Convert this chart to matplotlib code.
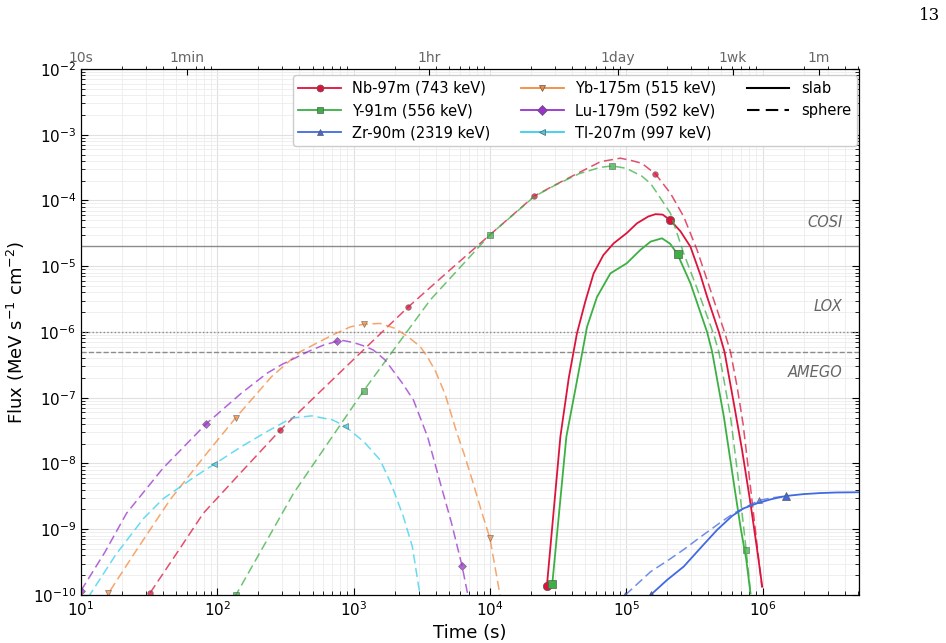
import numpy as np
import matplotlib
matplotlib.use("Agg")
import matplotlib.pyplot as plt
from matplotlib.lines import Line2D

# ---------------------------------------------------------------------------
# data (time in s, flux in MeV s^-1 cm^-2)
# ---------------------------------------------------------------------------
names = ["Nb-97m (743 keV)", "Y-91m (556 keV)", "Zr-90m (2319 keV)",
         "Yb-175m (515 keV)", "Lu-179m (592 keV)", "Tl-207m (997 keV)"]
colors = ["#dc143c", "#3cb043", "#4169e1", "#f4893b", "#9932cc", "#35d0ee"]
markers = ["o", "s", "^", "v", "D", "<"]

# sphere (dashed)
nb_t_sph = [25, 32, 50, 79, 150, 289, 600, 1200, 2506, 5000, 1.0e4, 2.12e4,
            3.0e4, 4.5e4, 6.5e4, 9.06e4, 1.1e5, 1.3e5, 1.64e5, 2.11e5, 2.64e5,
            3.31e5, 4.15e5, 5.26e5, 5.82e5, 6.5e5, 7.2e5, 8.2e5, 9.9e5]
nb_f_sph = [4.8e-11, 1.06e-10, 4.2e-10, 1.75e-9, 7.4e-9, 3.2e-8, 1.38e-7,
            5.5e-7, 2.38e-6, 8.5e-6, 3.0e-5, 1.17e-4, 1.72e-4, 2.65e-4,
            3.9e-4, 4.4e-4, 4.04e-4, 3.68e-4, 2.53e-4, 1.29e-4, 5.7e-5, 1.77e-5,
            4.35e-6, 1.0e-6, 5.0e-7, 1.5e-7, 4.0e-8, 4.0e-9, 1.3e-10]
nb_mk_sph = [32, 289, 2506, 2.12e4, 1.64e5]

y_t_sph = [120, 137, 362, 1183, 3650, 1.0e4, 2.12e4, 3.0e4, 4.5e4, 6.5e4,
           7.92e4, 1.0e5, 1.3e5, 1.51e5, 1.7e5, 2.11e5, 2.64e5, 3.31e5, 4.4e5,
           4.78e5, 5.82e5, 6.7e5, 7.59e5, 8.2e5]
y_f_sph = [6.0e-11, 1.0e-10, 3.5e-9, 1.27e-7, 3.07e-6, 3.0e-5, 1.15e-4,
           1.7e-4, 2.55e-4, 3.2e-4, 3.35e-4, 3.09e-4, 2.35e-4, 1.81e-4,
           1.26e-4, 6.4e-5, 1.57e-5, 4.6e-6, 9.0e-7, 5.0e-7, 5.2e-8, 5.0e-9,
           4.8e-10, 1.0e-10]
y_mk_sph = [137, 1183, 1.0e4, 7.92e4, 7.59e5]

zr_t_sph = [9.86e4, 1.51e5, 2.0e5, 2.64e5, 3.53e5, 5.0e5, 6.16e5, 9.4e5,
            1.15e6, 1.48e6]
zr_f_sph = [1.0e-10, 2.26e-10, 3.3e-10, 4.9e-10, 7.7e-10, 1.3e-9, 1.75e-9,
            2.74e-9, 2.98e-9, 3.2e-9]
zr_mk_sph = [9.86e4, 9.4e5]

yb_t_sph = [13, 15.9, 25, 45, 80, 137, 250, 405, 700, 950, 1183, 1567, 2000,
            2500, 3080, 3500, 4000, 4700, 5730, 6500, 7500, 8700, 1.0e4,
            1.18e4, 1.3e4]
yb_f_sph = [5.0e-11, 1.06e-10, 4.5e-10, 2.8e-9, 1.27e-8, 5.0e-8, 2.09e-7,
            5.0e-7, 9.0e-7, 1.2e-6, 1.31e-6, 1.35e-6, 1.14e-6, 8.5e-7, 6.0e-7,
            4.1e-7, 2.5e-7, 1.12e-7, 2.9e-8, 1.35e-8, 5.2e-9, 1.84e-9,
            7.3e-10, 1.06e-10, 3e-11]
yb_mk_sph = [15.9, 137, 1183, 1.0e4]

lu_t_sph = [10, 15, 21.6, 40, 82.8, 150, 231, 300, 480, 600, 753, 843, 1000,
            1200, 1400, 1700, 2000, 2300, 2750, 3500, 4330, 5200, 6240, 6850,
            7300]
lu_f_sph = [1.16e-10, 4.5e-10, 1.75e-9, 8.5e-9, 4.0e-8, 1.17e-7, 2.35e-7,
            3.23e-7, 5.2e-7, 6.3e-7, 7.2e-7, 7.4e-7, 6.9e-7, 6.1e-7, 5.3e-7,
            3.76e-7, 2.4e-7, 1.62e-7, 9.2e-8, 2.5e-8, 5.0e-9, 1.3e-9, 2.8e-10,
            1.06e-10, 5e-11]
lu_mk_sph = [10, 82.8, 753, 6240]

tl_t_sph = [10, 11.6, 18, 28.7, 40, 50, 70, 95.3, 150, 231, 350, 494, 700,
            867, 1200, 1567, 1900, 2320, 2700, 3000, 3200]
tl_f_sph = [6e-11, 1.0e-10, 4.1e-10, 1.45e-9, 2.9e-9, 4.0e-9, 6.5e-9, 9.8e-9,
            1.8e-8, 3.05e-8, 4.9e-8, 5.3e-8, 4.6e-8, 3.7e-8, 2.1e-8, 1.13e-8,
            4.7e-9, 1.55e-9, 5.4e-10, 1.35e-10, 6e-11]
tl_mk_sph = [95.3, 867]

# slab (solid)
nb_t_slab = [2.62e4, 3.29e4, 3.79e4, 4.35e4, 5.0e4, 5.77e4, 6.8e4, 8.09e4,
             1.01e5, 1.2e5, 1.45e5, 1.64e5, 1.85e5, 2.11e5, 2.5e5, 2.96e5,
             3.5e5, 3.92e5, 4.78e5, 5.26e5, 6.16e5, 7.08e5, 8.16e5, 9.14e5,
             9.95e5]
nb_f_slab = [1.39e-10, 2.57e-8, 2.0e-7, 9.5e-7, 2.86e-6, 7.8e-6, 1.48e-5,
             2.23e-5, 3.2e-5, 4.5e-5, 5.7e-5, 6.2e-5, 6.1e-5, 5.0e-5, 3.4e-5,
             1.98e-5, 7.4e-6, 3.44e-6, 1.0e-6, 5.0e-7, 8.2e-8, 1.6e-8, 2.48e-9,
             4.8e-10, 1.34e-10]
nb_mk_slab = [2.62e4, 2.11e5]

y_t_slab = [2.87e4, 3.64e4, 4.34e4, 5.16e4, 6.1e4, 7.66e4, 1.01e5, 1.27e5,
            1.51e5, 1.83e5, 2.1e5, 2.38e5, 2.96e5, 3.92e5, 4.27e5, 5.2e5,
            6.16e5, 6.9e5, 7.59e5, 8.16e5]
y_f_slab = [1.49e-10, 2.57e-8, 1.75e-7, 1.2e-6, 3.4e-6, 7.8e-6, 1.11e-5,
            1.77e-5, 2.37e-5, 2.66e-5, 2.2e-5, 1.52e-5, 5.5e-6, 1.0e-6, 5.0e-7,
            5.2e-8, 5.0e-9, 1.07e-9, 3.5e-10, 1.06e-10]
y_mk_slab = [2.87e4, 2.38e5]

zr_t_slab = [1.51e5, 2.0e5, 2.64e5, 3.6e5, 4.65e5, 6.0e5, 7.28e5, 9.14e5,
             1.15e6, 1.48e6, 2.0e6, 2.67e6, 3.5e6, 5.1e6]
zr_f_slab = [1.0e-10, 1.7e-10, 2.7e-10, 5.5e-10, 9.8e-10, 1.6e-9, 2.08e-9,
             2.48e-9, 2.85e-9, 3.2e-9, 3.42e-9, 3.55e-9, 3.62e-9, 3.65e-9]
zr_mk_slab = [1.51e5, 1.48e6]

sphere = [(nb_t_sph, nb_f_sph, nb_mk_sph), (y_t_sph, y_f_sph, y_mk_sph),
          (zr_t_sph, zr_f_sph, zr_mk_sph), (yb_t_sph, yb_f_sph, yb_mk_sph),
          (lu_t_sph, lu_f_sph, lu_mk_sph), (tl_t_sph, tl_f_sph, tl_mk_sph)]
slab = [(nb_t_slab, nb_f_slab, nb_mk_slab), (y_t_slab, y_f_slab, y_mk_slab),
        (zr_t_slab, zr_f_slab, zr_mk_slab), None, None, None]

# instrument sensitivities
inst_names = ["COSI", "LOX", "AMEGO"]
inst_flux = [2e-5, 1e-6, 5e-7]
inst_styles = ["-", ":", "--"]
inst_label_y = [4.7e-5, 2.4e-6, 2.4e-7]

# secondary time axis
top_ticks = [10, 60, 3600, 86400, 604800, 2.592e6]
top_labels = ["10s", "1min", "1hr", "1day", "1wk", "1m"]

# ---------------------------------------------------------------------------
fig = plt.figure(figsize=(9.46, 6.43), dpi=100)
ax = fig.add_axes([0.0856, 0.0747, 0.8224, 0.818])

for i in range(len(names)):
    t, f, mk = sphere[i]
    ax.plot(t, f, "--", color=colors[i], lw=1.1, alpha=0.75,
            marker=markers[i], markevery=[t.index(m) for m in mk],
            markersize=4, markeredgecolor="0.35", markeredgewidth=0.5,
            dashes=(6, 3))
    if slab[i] is not None:
        t, f, mk = slab[i]
        ax.plot(t, f, "-", color=colors[i], lw=1.3,
                marker=markers[i], markevery=[t.index(m) for m in mk],
                markersize=6, markeredgecolor="0.35", markeredgewidth=0.5)

for name, fl, ls, ly in zip(inst_names, inst_flux, inst_styles, inst_label_y):
    ax.axhline(fl, color="0.55", ls=ls, lw=1.0, zorder=1)
    ax.text(0.979, ly, name, transform=ax.get_yaxis_transform(), ha="right",
            va="center", style="italic", color="0.4", fontsize=10.5)

ax.set_xscale("log")
ax.set_yscale("log")
ax.set_xlim(10, 5.1e6)
ax.set_ylim(1e-10, 1e-2)
ax.grid(True, which="major", color="0.88", lw=0.8)
ax.grid(True, which="minor", color="0.93", lw=0.6)
ax.set_axisbelow(True)
ax.tick_params(which="both", direction="in", right=True, top=False)
ax.tick_params(which="major", length=5, labelsize=11)
ax.tick_params(which="minor", length=3)
ax.set_xlabel("Time (s)", fontsize=13)
ax.set_ylabel(r"Flux (MeV s$^{-1}$ cm$^{-2}$)", fontsize=13)

ax2 = ax.twiny()
ax2.set_xscale("log")
ax2.set_xlim(ax.get_xlim())
ax2.set_xticks(top_ticks)
ax2.set_xticklabels(top_labels)
ax2.tick_params(which="major", direction="in", length=4, labelsize=10,
                labelcolor="0.4", pad=3)
ax2.tick_params(which="minor", direction="out", length=2.5)

handles = [Line2D([], [], color=c, marker=m, markersize=5,
                  markeredgecolor="0.35", markeredgewidth=0.5, lw=1.3)
           for c, m in zip(colors, markers)]
handles += [Line2D([], [], color="black", ls="-", lw=1.5),
            Line2D([], [], color="black", ls="--", lw=1.5, dashes=(6, 3))]
labels = names + ["slab", "sphere"]
ax.legend(handles, labels, loc="upper right", ncol=3, fontsize=10.5,
          handlelength=2.9, columnspacing=2.1, framealpha=1,
          edgecolor="0.8", borderaxespad=0,
          bbox_to_anchor=(0.9974, 0.9886))

fig.text(0.994, 0.976, "13", ha="right", va="center", fontsize=12,
         family="DejaVu Serif")

fig.savefig("out.png", dpi=100)
